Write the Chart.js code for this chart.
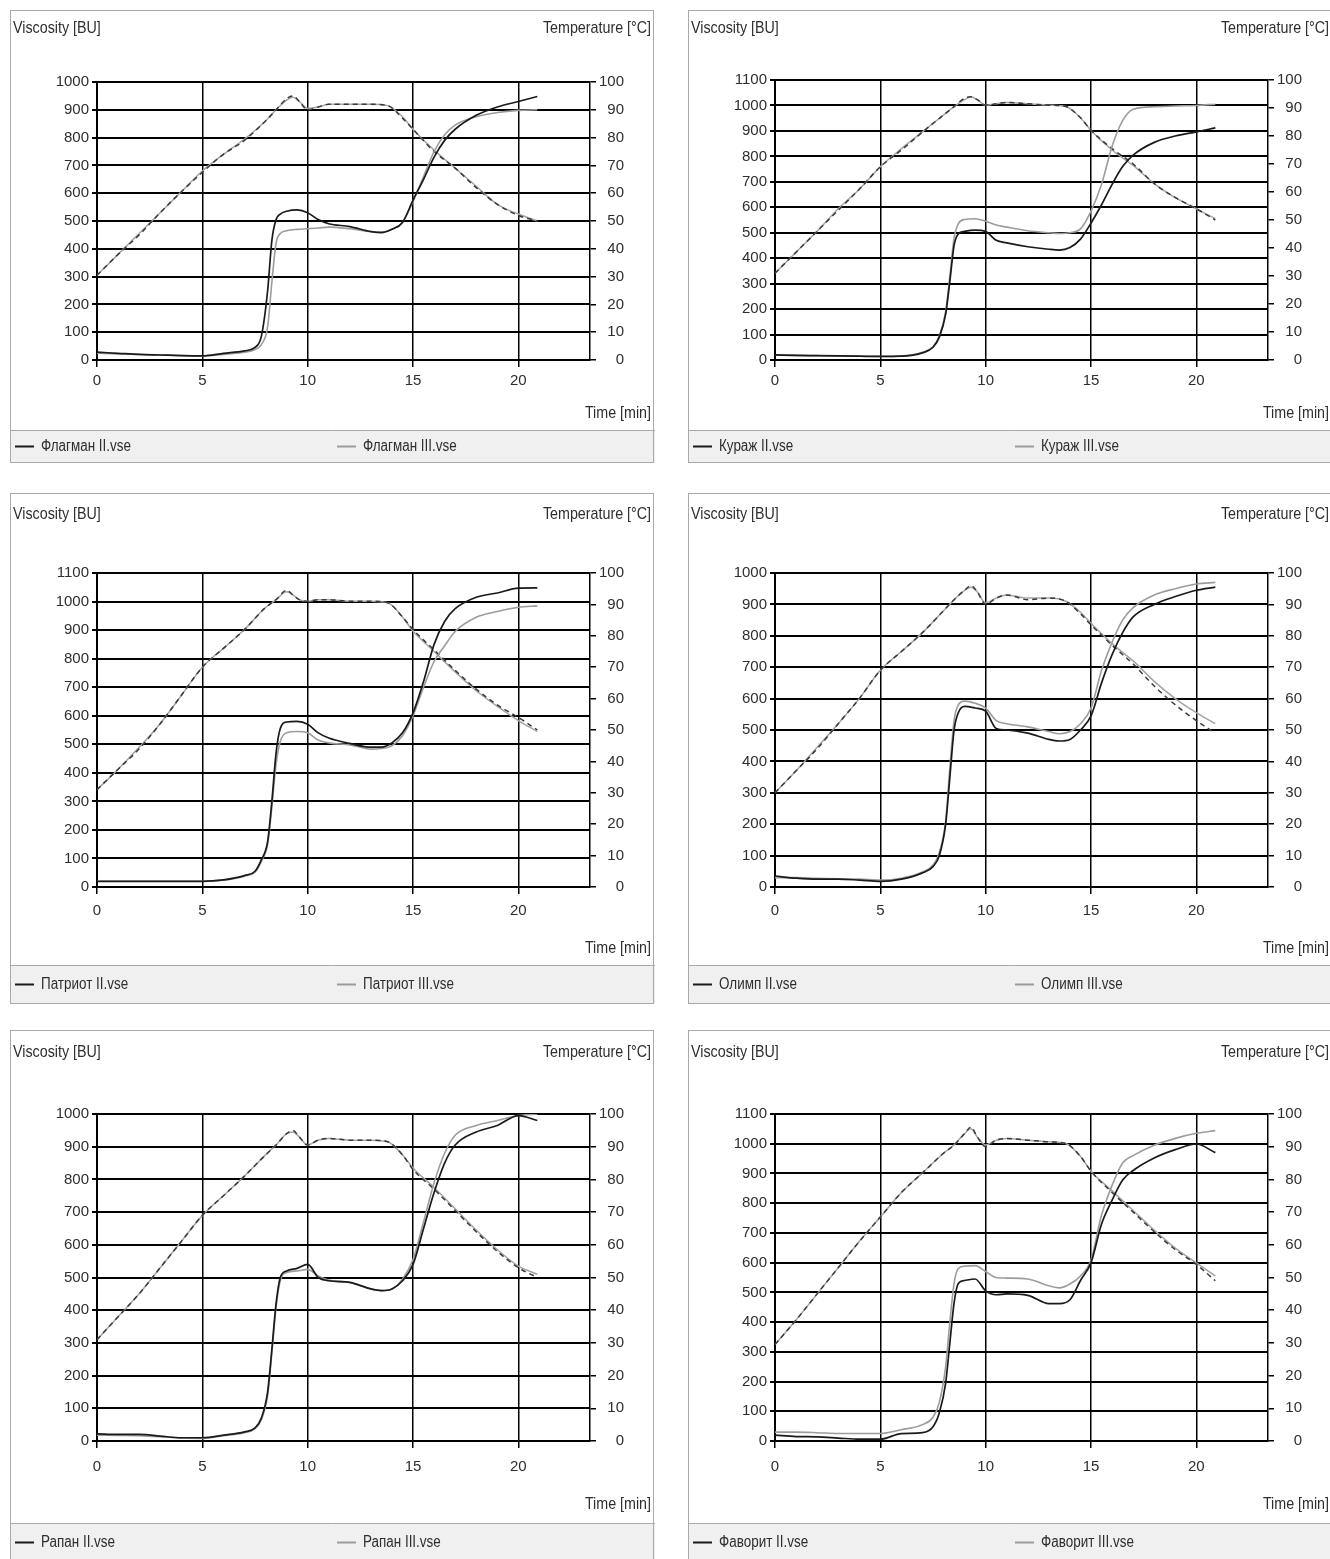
<!DOCTYPE html>
<html>
<head>
<meta charset="utf-8">
<script src="https://cdn.jsdelivr.net/npm/chart.js@4.4.1/dist/chart.umd.min.js"></script>
<style>
  html, body { margin: 0; padding: 0; background: #fff; overflow: hidden; }
  canvas { position: absolute; }
</style>
</head>
<body>
<canvas id="c1" width="645" height="453" style="left:10px;top:10px"></canvas>
<canvas id="c2" width="645" height="453" style="left:688px;top:10px"></canvas>
<canvas id="c3" width="645" height="511" style="left:10px;top:493px"></canvas>
<canvas id="c4" width="645" height="511" style="left:688px;top:493px"></canvas>
<canvas id="c5" width="645" height="532" style="left:10px;top:1030px"></canvas>
<canvas id="c6" width="645" height="532" style="left:688px;top:1030px"></canvas>
<script>
// time axes (min)
const viscTime = [0, 1, 2, 3, 4, 5, 6, 7, 7.5, 7.8, 8.1, 8.3, 8.5, 8.7, 9, 9.5, 10, 10.5, 11, 12, 13, 13.5, 14, 14.5, 15, 15.5, 16, 16.5, 17, 18, 19, 20, 20.9];
const tempTime = [0, 1, 2, 3, 4, 5, 6, 7, 8, 8.5, 9, 9.3, 9.6, 10, 10.5, 11, 12, 13, 13.8, 14.5, 15, 16, 17, 18, 19, 20, 20.9];

// viscosity, BU
const flagmanViscII  = [28, 24, 20, 18, 16, 15, 24, 33, 45, 85, 250, 430, 505, 525, 535, 540, 530, 505, 490, 480, 462, 458, 470, 495, 575, 650, 730, 790, 830, 880, 910, 930, 948];
const flagmanViscIII = [25, 22, 20, 18, 16, 14, 20, 28, 38, 55, 120, 280, 420, 455, 465, 470, 472, 475, 478, 472, 462, 460, 470, 495, 570, 660, 750, 810, 845, 875, 890, 898, 900];
const kurazhViscII   = [20, 18, 17, 16, 15, 14, 15, 28, 50, 90, 180, 310, 450, 495, 505, 510, 505, 470, 460, 445, 435, 432, 442, 475, 538, 610, 690, 760, 805, 855, 880, 896, 912];
const kurazhViscIII  = [20, 18, 17, 16, 15, 14, 16, 30, 52, 95, 190, 330, 480, 535, 552, 555, 545, 530, 522, 508, 500, 497, 500, 515, 585, 690, 840, 940, 985, 995, 998, 1000, 1005];
const patriotViscII  = [20, 20, 20, 20, 20, 20, 25, 40, 55, 95, 160, 300, 470, 555, 578, 580, 570, 540, 522, 503, 490, 490, 505, 540, 610, 720, 850, 930, 975, 1015, 1030, 1047, 1048];
const patriotViscIII = [20, 20, 20, 20, 20, 20, 24, 38, 52, 90, 150, 280, 430, 510, 540, 545, 540, 515, 505, 498, 483, 485, 495, 530, 600, 700, 790, 845, 895, 945, 965, 980, 985];
const olimpViscII    = [35, 28, 25, 25, 22, 18, 25, 45, 65, 100, 200, 350, 500, 555, 575, 570, 560, 505, 500, 490, 470, 465, 470, 500, 545, 650, 740, 810, 860, 900, 925, 945, 955];
const olimpViscIII   = [30, 30, 28, 26, 25, 22, 28, 48, 70, 110, 210, 380, 530, 580, 592, 585, 570, 530, 520, 510, 495, 488, 495, 520, 570, 690, 780, 850, 890, 930, 950, 965, 970];
const rapanViscII    = [22, 20, 20, 15, 10, 10, 18, 28, 40, 70, 150, 280, 420, 500, 520, 528, 540, 500, 490, 485, 465, 460, 465, 490, 540, 650, 760, 850, 905, 945, 965, 995, 980];
const rapanViscIII   = [18, 17, 16, 13, 9, 8, 16, 25, 38, 65, 140, 270, 410, 490, 515, 520, 525, 505, 492, 485, 465, 460, 465, 495, 555, 670, 790, 880, 935, 965, 980, 995, 1000];
const favoritViscII  = [20, 15, 14, 10, 6, 6, 25, 28, 48, 95, 195, 330, 465, 530, 540, 545, 505, 492, 495, 490, 462, 462, 475, 540, 600, 730, 810, 878, 910, 952, 980, 999, 970];
const favoritViscIII = [30, 30, 28, 25, 25, 25, 38, 55, 80, 130, 250, 400, 530, 580, 588, 590, 570, 550, 548, 545, 522, 515, 528, 555, 610, 760, 860, 935, 960, 995, 1018, 1035, 1044];

// temperature, °C
const flagmanTempII  = [30.5, 38, 45, 53, 60.5, 67.5, 74, 79, 86, 90, 94, 95, 93, 90, 91, 92, 92, 92, 91.5, 87, 83, 75, 69, 62, 56, 52, 50];
const flagmanTempIII = [30.5, 38, 45.5, 53, 60.5, 68, 74, 79.5, 86, 90, 93.5, 94.5, 93, 90.5, 91, 92, 92, 92, 91.5, 87.5, 83, 75.5, 69, 62.5, 56, 52.5, 50];
const kurazhTempII   = [31, 38.5, 46, 53.5, 61, 69, 75, 81.4, 87.5, 90.5, 93.5, 94, 93, 91, 91.5, 92, 91.5, 91, 90.5, 86.5, 82, 75.5, 70, 63, 58, 54, 50];
const kurazhTempIII  = [31, 38.5, 46, 54, 61, 69, 75.5, 81.5, 87.5, 90.5, 93, 94, 93, 91, 91.5, 92, 91.5, 91, 90.5, 86.5, 82, 75, 69.5, 63, 58, 54, 50.5];
const patriotTempII  = [31, 37.5, 44, 52, 61, 70, 76, 82, 89, 91.5, 94.5, 93, 91.5, 91, 91.5, 91.5, 91, 91, 90.5, 86, 82, 75.5, 69, 63, 58, 54, 50];
const patriotTempIII = [31, 37.5, 44.5, 52, 61, 70, 76, 82, 89, 91.5, 94, 93, 91.5, 91, 91.5, 91.5, 91, 91, 90.5, 86, 81.5, 75, 68.5, 62.5, 57.5, 53, 49.5];
const olimpTempII    = [30, 37, 44, 52, 60, 69, 75, 81, 88, 91.5, 94.5, 96, 94, 90, 92, 93, 91.5, 92, 91, 87, 83.5, 77, 71, 64, 58, 53, 49];
const olimpTempIII   = [30, 37, 44.5, 52, 60, 69, 75, 81, 88, 91.5, 94.5, 95.5, 94, 90.5, 92, 93, 92, 92, 91, 87.5, 84, 77.5, 72, 65.5, 60, 55.5, 52];
const rapanTempII    = [31, 38, 45, 53, 61, 69, 75, 81, 87.5, 90.5, 94, 95, 93, 90.5, 92, 92.5, 92, 92, 91.5, 87.5, 83, 77, 70.5, 64, 58, 53, 50];
const rapanTempIII   = [31, 38, 45, 53, 61, 69, 75, 81, 87.5, 90.5, 94, 94.5, 93, 90.5, 92, 92.5, 92, 92, 91.5, 87.5, 83.5, 77.5, 71, 64.5, 58.5, 53.5, 51];
const favoritTempII  = [29.5, 37, 45, 53, 61, 68.5, 76, 82, 88, 90.5, 94, 96, 93, 90, 92, 92.5, 92, 91.5, 91, 87, 82.5, 76, 70, 64, 58.5, 54, 49];
const favoritTempIII = [29.5, 37, 45, 53, 61, 68.5, 76, 82, 88, 90.5, 94, 95.5, 93, 90.5, 92, 92.5, 92, 91.5, 91, 87, 82.5, 76.5, 70.5, 64.5, 59, 54.5, 50.5];

const FONT = "'Liberation Sans', Arial, sans-serif";
Chart.defaults.font.family = FONT;
Chart.defaults.font.size = 15;
Chart.defaults.color = '#2e2e2e';

const toPoints = (xs, ys) => xs.map((x, i) => ({ x: x, y: ys[i] }));

// narrow text, like the instrument software's condensed font
function narrowText(ctx, text, x, y, align) {
  ctx.save();
  ctx.translate(x, y);
  ctx.scale(0.84, 1);
  ctx.textAlign = align;
  ctx.fillText(text, 0, 0);
  ctx.restore();
}

// panel frame, titles and the grey legend strip at the bottom
const panelFrame = {
  id: 'panelFrame',
  afterDraw(chart, args, opts) {
    const ctx = chart.ctx;
    const w = chart.width, h = chart.height;
    ctx.save();
    ctx.fillStyle = '#f0f0f0';
    ctx.fillRect(0, opts.legendTop, w, h - opts.legendTop);
    ctx.strokeStyle = '#a9a9a9';
    ctx.lineWidth = 1;
    ctx.beginPath();
    ctx.moveTo(0, opts.legendTop + 0.5);
    ctx.lineTo(w, opts.legendTop + 0.5);
    ctx.stroke();
    ctx.strokeRect(0.5, 0.5, w - 2, h - 1);

    ctx.font = '17px ' + FONT;
    ctx.fillStyle = '#2e2e2e';
    ctx.textBaseline = 'middle';
    narrowText(ctx, 'Viscosity [BU]', 3, opts.titleY, 'left');
    narrowText(ctx, 'Temperature [°C]', w - 4, opts.titleY, 'right');
    narrowText(ctx, 'Time [min]', w - 4, opts.timeY, 'right');

    const legY = (opts.legendTop + h) / 2;
    const items = chart.data.datasets.filter(d => !d.isTemp);
    ctx.font = '16px ' + FONT;
    items.forEach((d, i) => {
      const x0 = i === 0 ? 5 : 327;
      ctx.strokeStyle = d.borderColor;
      ctx.lineWidth = 2;
      ctx.beginPath();
      ctx.moveTo(x0, legY);
      ctx.lineTo(x0 + 19, legY);
      ctx.stroke();
      narrowText(ctx, d.label, x0 + 26, legY, 'left');
    });
    ctx.restore();
  }
};

const panels = [
  { id: 'c1', name: 'Флагман', yMax: 1000, plotTop: 72, plotBottom: 350, legendTop: 420, titleY: 18, timeY: 403, tickPad: 5,
    visc: [flagmanViscII, flagmanViscIII], temp: [flagmanTempII, flagmanTempIII] },
  { id: 'c2', name: 'Кураж', yMax: 1100, plotTop: 70, plotBottom: 350, legendTop: 420, titleY: 18, timeY: 403, tickPad: 5,
    visc: [kurazhViscII, kurazhViscIII], temp: [kurazhTempII, kurazhTempIII] },
  { id: 'c3', name: 'Патриот', yMax: 1100, plotTop: 80, plotBottom: 394, legendTop: 472, titleY: 21, timeY: 455, tickPad: 8,
    visc: [patriotViscII, patriotViscIII], temp: [patriotTempII, patriotTempIII] },
  { id: 'c4', name: 'Олимп', yMax: 1000, plotTop: 80, plotBottom: 394, legendTop: 472, titleY: 21, timeY: 455, tickPad: 8,
    visc: [olimpViscII, olimpViscIII], temp: [olimpTempII, olimpTempIII] },
  { id: 'c5', name: 'Рапан', yMax: 1000, plotTop: 84, plotBottom: 411, legendTop: 493, titleY: 22, timeY: 474, tickPad: 10,
    visc: [rapanViscII, rapanViscIII], temp: [rapanTempII, rapanTempIII] },
  { id: 'c6', name: 'Фаворит', yMax: 1100, plotTop: 84, plotBottom: 411, legendTop: 493, titleY: 22, timeY: 474, tickPad: 10,
    visc: [favoritViscII, favoritViscIII], temp: [favoritTempII, favoritTempIII] }
];

const DARK = '#1a1a1a';
const LIGHT = '#9c9c9c';

panels.forEach(p => {
  const canvas = document.getElementById(p.id);
  const H = canvas.height;
  const xAxisH = 48;
  new Chart(canvas.getContext('2d'), {
    type: 'line',
    data: {
      datasets: [
        { label: p.name + ' II.vse', data: toPoints(viscTime, p.visc[0]), yAxisID: 'y',
          borderColor: DARK, borderWidth: 1.7 },
        { label: p.name + ' III.vse', data: toPoints(viscTime, p.visc[1]), yAxisID: 'y',
          borderColor: LIGHT, borderWidth: 1.6 },
        { label: p.name + ' II.vse', isTemp: true, data: toPoints(tempTime, p.temp[0]), yAxisID: 'y2',
          borderColor: '#3a3a3a', borderWidth: 1.5, borderDash: [5, 4] },
        { label: p.name + ' III.vse', isTemp: true, data: toPoints(tempTime, p.temp[1]), yAxisID: 'y2',
          borderColor: '#a5a5a5', borderWidth: 1.5 }
      ]
    },
    options: {
      responsive: false,
      animation: false,
      parsing: false,
      elements: { point: { radius: 0 }, line: { cubicInterpolationMode: 'monotone', fill: false } },
      layout: { padding: { left: 0, top: p.plotTop, right: 645 - 580 - 34, bottom: H - p.plotBottom - xAxisH } },
      plugins: {
        legend: { display: false },
        tooltip: { enabled: false },
        panelFrame: { legendTop: p.legendTop, titleY: p.titleY, timeY: p.timeY }
      },
      scales: {
        x: {
          type: 'linear', min: 0, max: 23.4,
          ticks: { stepSize: 5, includeBounds: false, padding: p.tickPad, callback: v => String(v) },
          grid: { color: '#000', lineWidth: 1.5, tickLength: 7 },
          border: { color: '#000', width: 2 },
          afterFit(s) { s.height = xAxisH; }
        },
        y: {
          position: 'left', min: 0, max: p.yMax,
          ticks: { stepSize: 100, padding: 3, callback: v => String(v) },
          grid: { color: '#000', lineWidth: 2, tickLength: 5 },
          border: { color: '#000', width: 2 },
          afterFit(s) { s.width = 87; }
        },
        y2: {
          position: 'right', min: 0, max: 100,
          ticks: { stepSize: 10, crossAlign: 'far', callback: v => String(v) },
          grid: { drawOnChartArea: false, color: '#000', lineWidth: 1.5, tickLength: 6 },
          border: { color: '#000', width: 1.5 },
          afterFit(s) { s.width = 34; }
        }
      }
    },
    plugins: [panelFrame]
  });
});
</script>
</body>
</html>
